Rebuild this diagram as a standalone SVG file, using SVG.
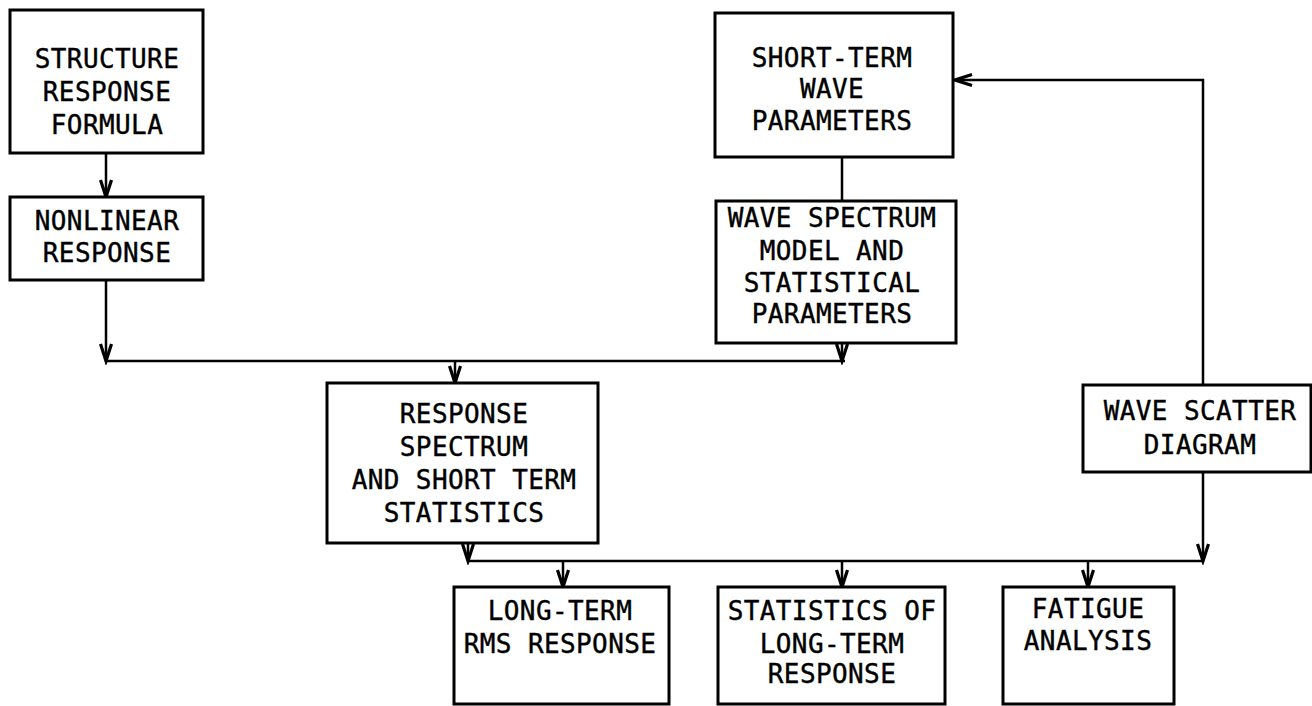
<svg xmlns="http://www.w3.org/2000/svg" width="1312" height="706" viewBox="0 0 1312 706">
<defs>
<style>
.box{fill:#fff;stroke:#000;stroke-width:3}
.t{font-family:"DejaVu Sans Mono","Liberation Mono",monospace;font-size:26px;letter-spacing:0.4px;fill:#000;stroke:#000;stroke-width:0.4;text-anchor:middle}
.c{fill:none;stroke:#000;stroke-width:2.5}
</style>
<marker id="ah" markerUnits="userSpaceOnUse" markerWidth="24" markerHeight="20" viewBox="-20 -10 24 20" refX="0" refY="0" orient="auto">
<path d="M-17,-5.5 L0,0 L-17,5.5" fill="none" stroke="#000" stroke-width="3.2"/>
</marker>
</defs>
<rect width="1312" height="706" fill="#fff"/>
<g id="connectors">
<path class="c" d="M106,153 V197" marker-end="url(#ah)"/>
<path class="c" d="M106,280 V361" marker-end="url(#ah)"/>
<path class="c" d="M106,361 H845"/>
<path class="c" d="M842,157 V201"/>
<path class="c" d="M842,343 V361" marker-end="url(#ah)"/>
<path class="c" d="M455,361 V383" marker-end="url(#ah)"/>
<path class="c" d="M1203,385 V80 H955" marker-end="url(#ah)"/>
<path class="c" d="M1203,472 V561" marker-end="url(#ah)"/>
<path class="c" d="M468,561 H1203"/>
<path class="c" d="M468,543 V561" marker-end="url(#ah)"/>
<path class="c" d="M563,561 V587" marker-end="url(#ah)"/>
<path class="c" d="M842,561 V587" marker-end="url(#ah)"/>
<path class="c" d="M1088,561 V587" marker-end="url(#ah)"/>
</g>
<g id="structure-response-formula">
<rect class="box" x="10" y="10" width="193" height="143"/>
<text class="t" x="107" y="68">STRUCTURE</text>
<text class="t" x="107" y="101">RESPONSE</text>
<text class="t" x="107" y="134">FORMULA</text>
</g>
<g id="nonlinear-response">
<rect class="box" x="10" y="197" width="193" height="83"/>
<text class="t" x="107" y="230">NONLINEAR</text>
<text class="t" x="107" y="262">RESPONSE</text>
</g>
<g id="short-term-wave-parameters">
<rect class="box" x="715" y="13" width="238" height="144"/>
<text class="t" x="832" y="67">SHORT-TERM</text>
<text class="t" x="832" y="98">WAVE</text>
<text class="t" x="832" y="130">PARAMETERS</text>
</g>
<g id="wave-spectrum-model">
<rect class="box" x="716" y="201" width="240" height="142"/>
<text class="t" x="832" y="227">WAVE SPECTRUM</text>
<text class="t" x="832" y="260">MODEL AND</text>
<text class="t" x="832" y="292">STATISTICAL</text>
<text class="t" x="832" y="323">PARAMETERS</text>
</g>
<g id="response-spectrum">
<rect class="box" x="327" y="383" width="271" height="160"/>
<text class="t" x="464" y="423">RESPONSE</text>
<text class="t" x="464" y="456">SPECTRUM</text>
<text class="t" x="464" y="489">AND SHORT TERM</text>
<text class="t" x="464" y="522">STATISTICS</text>
</g>
<g id="wave-scatter-diagram">
<rect class="box" x="1083" y="385" width="228" height="87"/>
<text class="t" x="1200" y="420">WAVE SCATTER</text>
<text class="t" x="1200" y="454">DIAGRAM</text>
</g>
<g id="long-term-rms-response">
<rect class="box" x="454" y="587" width="215" height="117"/>
<text class="t" x="560" y="620">LONG-TERM</text>
<text class="t" x="560" y="653">RMS RESPONSE</text>
</g>
<g id="statistics-long-term-response">
<rect class="box" x="718" y="587" width="227" height="117"/>
<text class="t" x="832" y="620">STATISTICS OF</text>
<text class="t" x="832" y="653">LONG-TERM</text>
<text class="t" x="832" y="683">RESPONSE</text>
</g>
<g id="fatigue-analysis">
<rect class="box" x="1003" y="587" width="171" height="117"/>
<text class="t" x="1088" y="618">FATIGUE</text>
<text class="t" x="1088" y="650">ANALYSIS</text>
</g>
</svg>
